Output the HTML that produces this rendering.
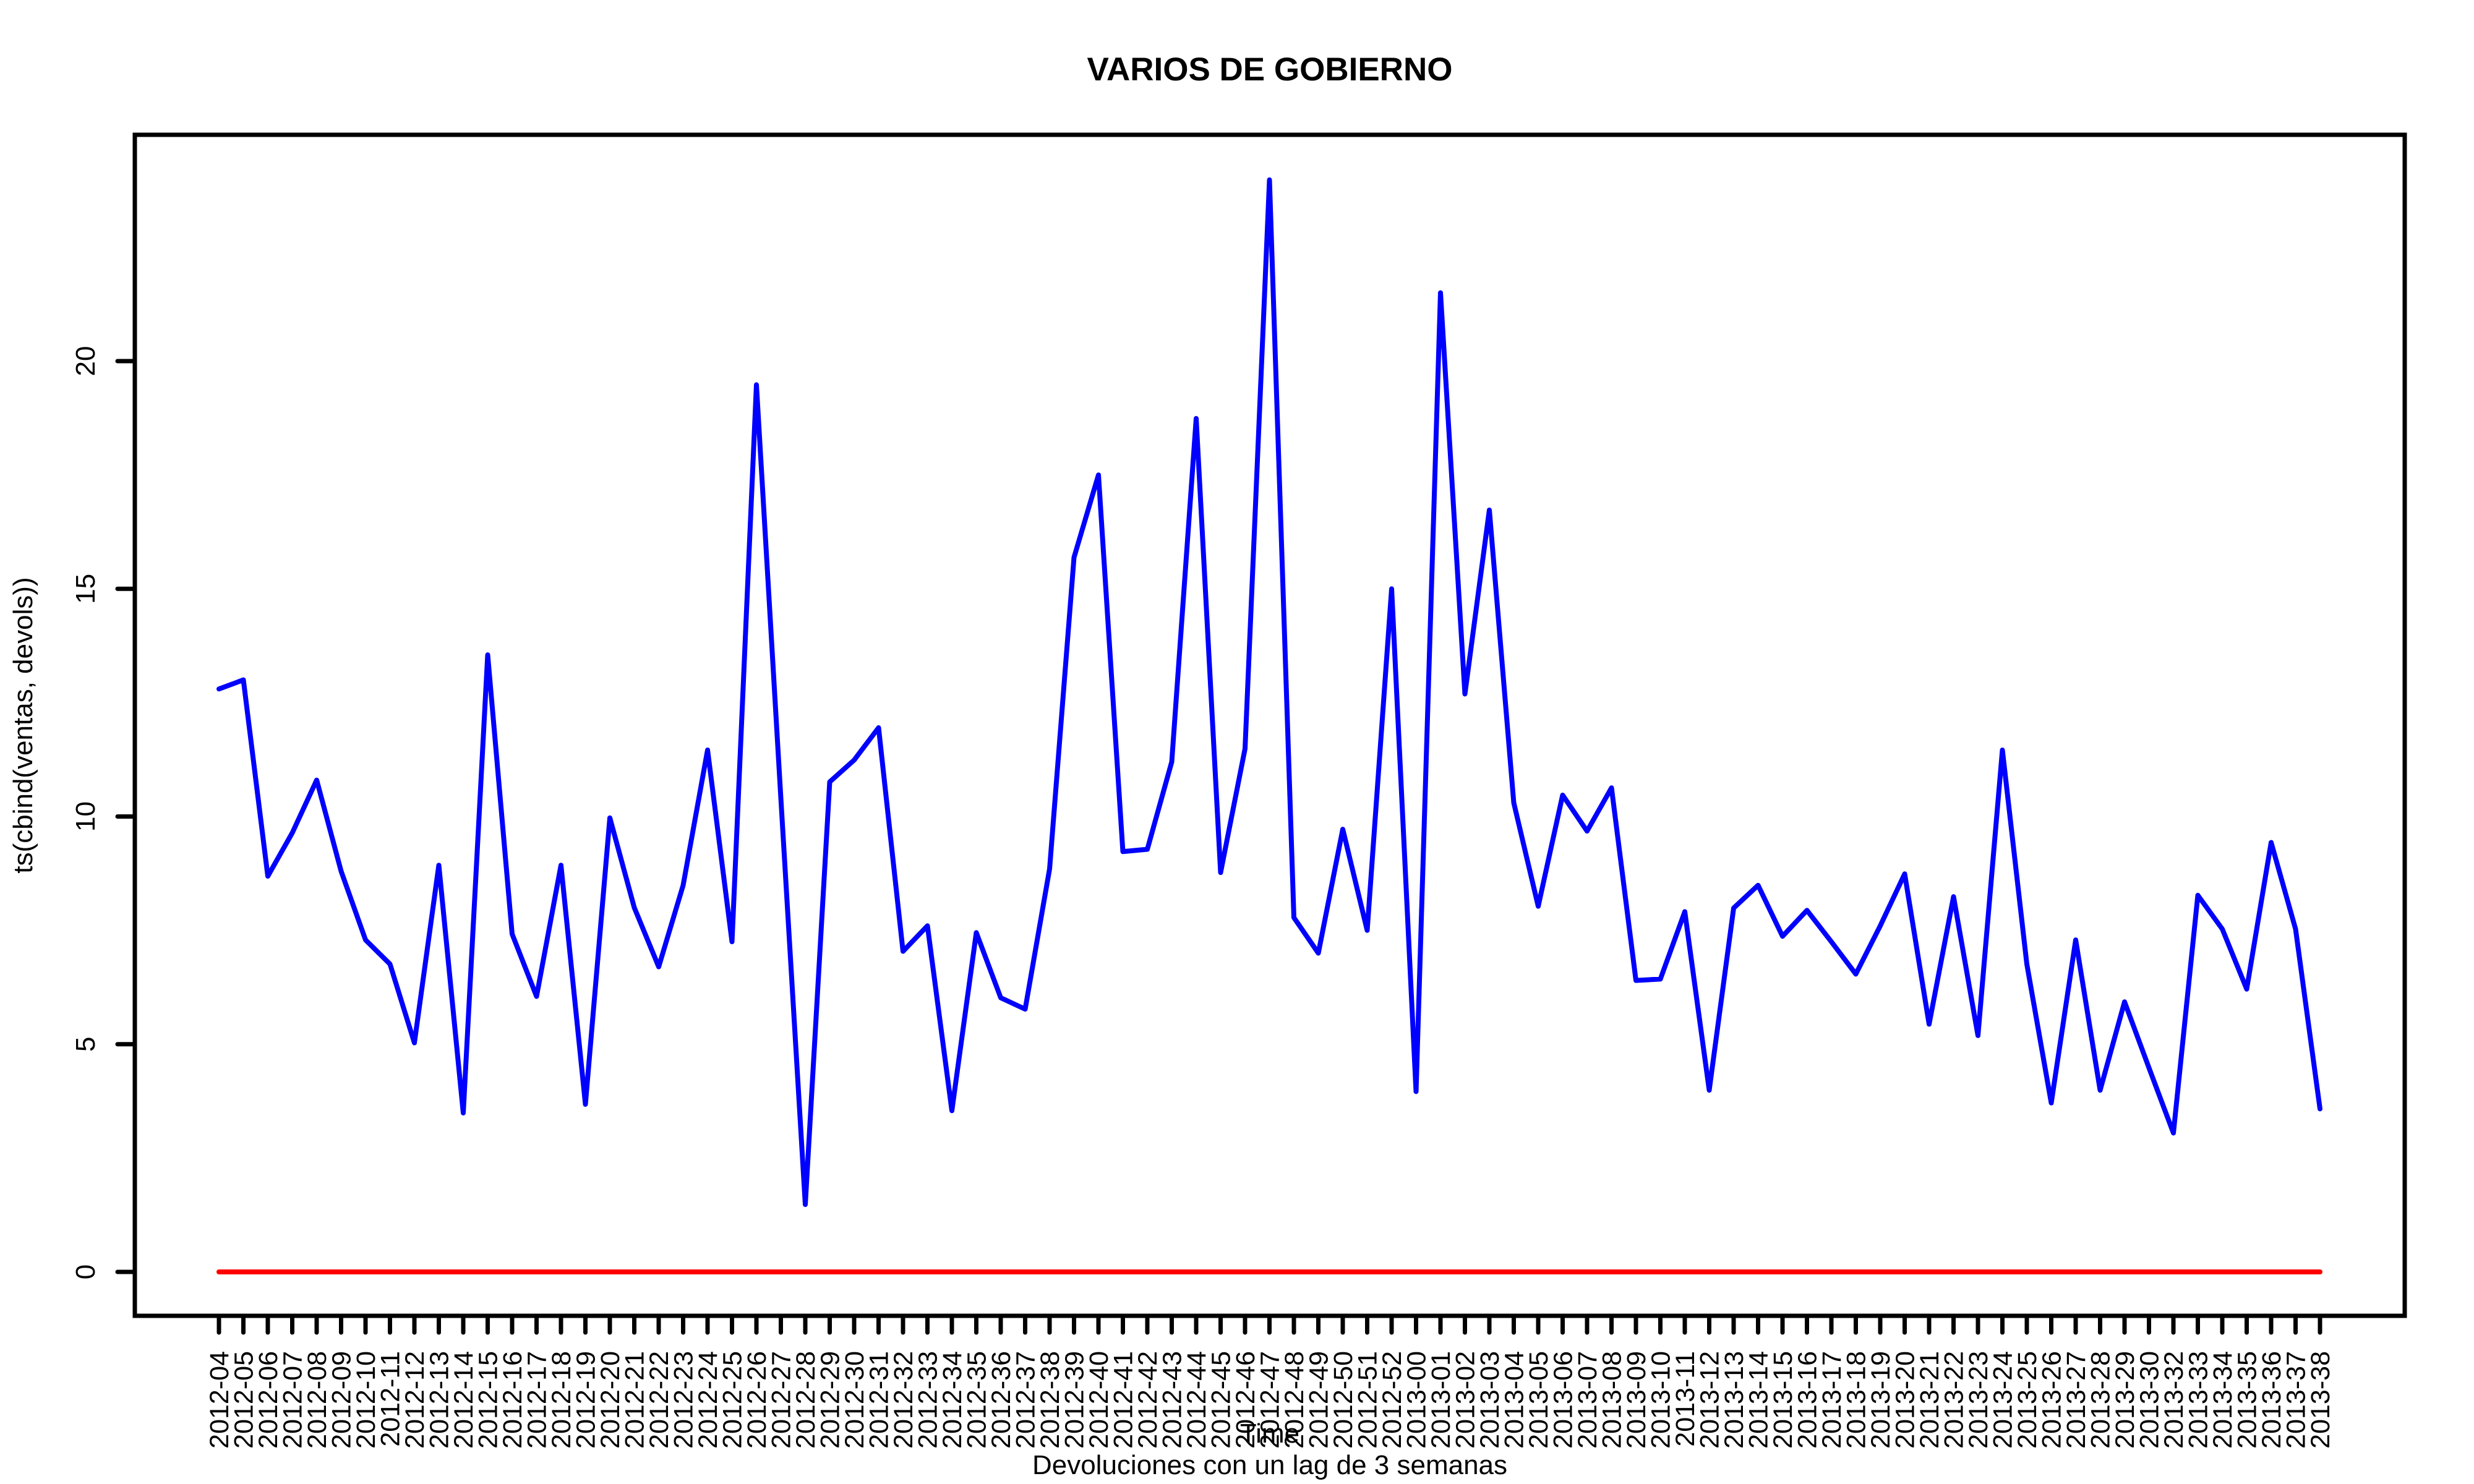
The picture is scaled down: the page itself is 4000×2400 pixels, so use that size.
<!DOCTYPE html>
<html><head><meta charset="utf-8"><style>
html,body{margin:0;padding:0;background:#fff;}
svg{display:block;font-family:"Liberation Sans",Arial,sans-serif;}
</style></head><body>
<svg id="chart" width="4000" height="2400" viewBox="0 0 4000 2400" xmlns="http://www.w3.org/2000/svg">
<rect x="0" y="0" width="4000" height="2400" fill="#fff"/>
<text x="2053" y="130" text-anchor="middle" font-size="53" font-weight="bold">VARIOS DE GOBIERNO</text>
<text x="52" y="1173" text-anchor="middle" font-size="44" transform="rotate(-90 52 1173)">ts(cbind(ventas, devols))</text>
<text x="2053" y="2333" text-anchor="middle" font-size="44">Time</text>
<text x="2053" y="2384" text-anchor="middle" font-size="44">Devoluciones con un lag de 3 semanas</text>
<g id="yaxis"></g>
<g id="xaxis"></g>
<g id="series"></g>
<rect x="218" y="218" width="3670" height="1910" fill="none" stroke="#000" stroke-width="7"/>
</svg>
<script>
const categories = (function(){const a=[];for(let w=4;w<=52;w++)a.push('2012-'+String(w).padStart(2,'0'));for(let w=0;w<=38;w++){if(w===31)continue;a.push('2013-'+String(w).padStart(2,'0'));}return a;})();
const ventasValues = [12.8,13.0,8.69,9.64,10.8,8.8,7.29,6.76,5.03,8.93,3.49,13.55,7.42,6.05,8.93,3.68,9.97,8.0,6.7,8.49,11.46,7.25,19.48,10.4,1.48,10.76,11.24,11.95,7.04,7.6,3.54,7.45,6.02,5.77,8.85,15.69,17.5,9.23,9.28,11.2,18.74,8.77,11.49,23.98,7.78,7.0,9.72,7.5,15.0,3.96,21.5,12.69,16.73,10.3,8.03,10.47,9.68,10.63,6.4,6.43,7.91,3.99,7.99,8.49,7.37,7.94,7.25,6.54,7.6,8.74,5.44,8.24,5.19,11.46,6.76,3.71,7.29,3.99,5.93,4.48,3.05,8.27,7.53,6.21,9.43,7.53,3.58];
const devolsValues = categories.map(()=>0);
const yTicks = [0,5,10,15,20];

const NS='http://www.w3.org/2000/svg';
const x0=354, x1=3751, yZero=2057, yUnit=73.65;
function xPos(i){return x0+(x1-x0)*i/(categories.length-1);}
function yPos(v){return yZero-v*yUnit;}
function mk(tag,attrs,parent){const e=document.createElementNS(NS,tag);for(const k in attrs)e.setAttribute(k,attrs[k]);parent.appendChild(e);return e;}

const ya=document.getElementById('yaxis');
yTicks.forEach(t=>{
  const y=yPos(t);
  const l=mk('line',{x1:190,x2:218,y1:y,y2:y,stroke:'#000','stroke-width':7,'stroke-linecap':'round'},ya);
  
  
  const tx=mk('text',{x:153,y:y,'text-anchor':'middle','font-size':44,transform:`rotate(-90 153 ${y})`},ya);
  
  
  tx.textContent=t;
});
const xa=document.getElementById('xaxis');
categories.forEach((c,i)=>{
  const x=xPos(i);
  const l=mk('line',{x1:x,x2:x,y1:2128,y2:2155,stroke:'#000','stroke-width':7,'stroke-linecap':'round'},xa);
  
  
  const tx=mk('text',{x:x+15,y:2185,'text-anchor':'end','font-size':43,transform:`rotate(-90 ${x+15} 2185)`},xa);
  
  
  tx.textContent=c;
});
const sg=document.getElementById('series');
const pts1=ventasValues.map((v,i)=>xPos(i)+','+yPos(v)).join(' ');
const p1=mk('polyline',{points:pts1,fill:'none',stroke:'#0000ff','stroke-width':8,'stroke-linejoin':'round','stroke-linecap':'round'},sg);


const pts2=devolsValues.map((v,i)=>xPos(i)+','+yPos(v)).join(' ');
const p2=mk('polyline',{points:pts2,fill:'none',stroke:'#ff0000','stroke-width':8,'stroke-linejoin':'round','stroke-linecap':'round'},sg);


</script>
</body></html>
